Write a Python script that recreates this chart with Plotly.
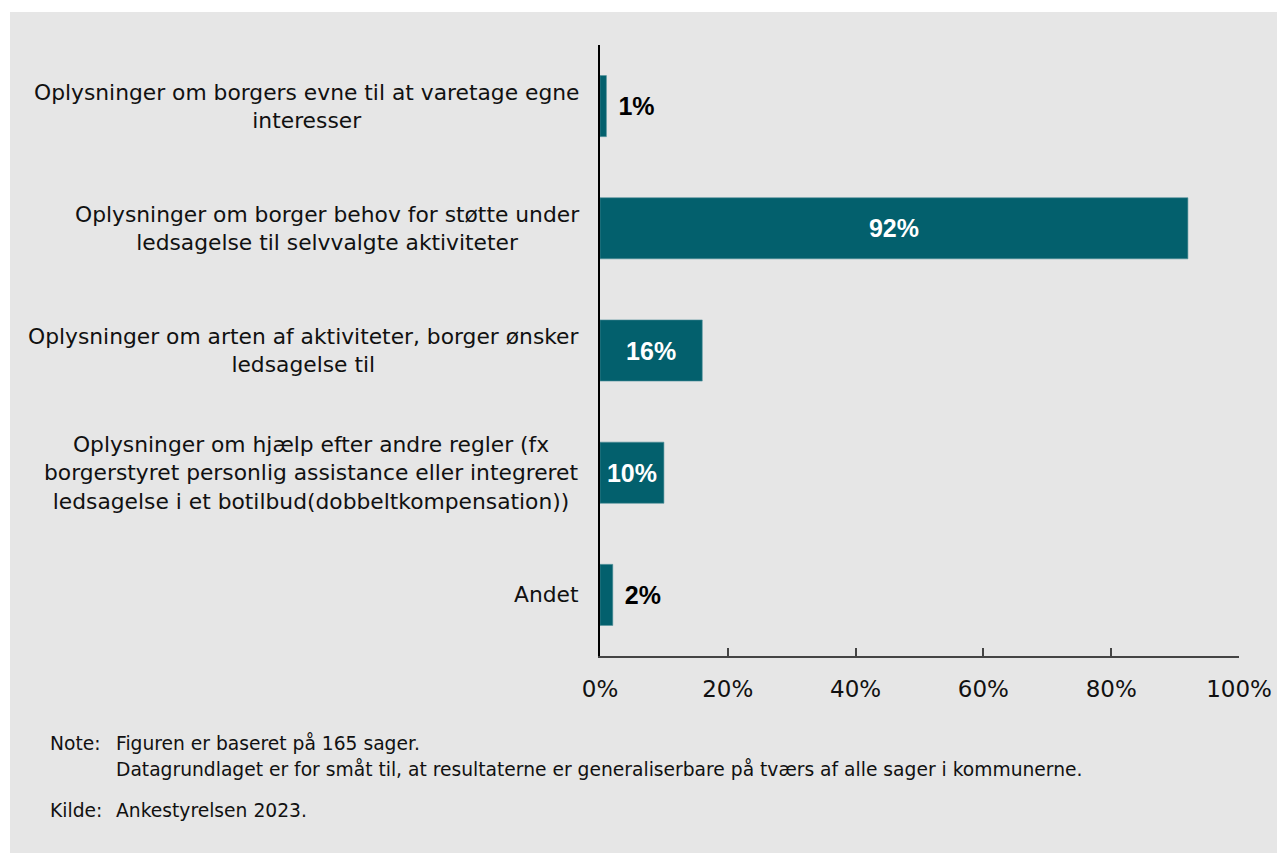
import plotly.graph_objects as go

categories = [
    "Oplysninger om borgers evne til at varetage egne<br>interesser",
    "Oplysninger om borger behov for støtte under<br>ledsagelse til selvvalgte aktiviteter",
    "Oplysninger om arten af aktiviteter, borger ønsker<br>ledsagelse til",
    "Oplysninger om hjælp efter andre regler (fx<br>borgerstyret personlig assistance eller integreret<br>ledsagelse i et botilbud(dobbeltkompensation))",
    "Andet",
]
values = [1, 92, 16, 10, 2]
value_labels = ["\u00a0\u200a1%", "92%", "16%", "10%", "\u00a0\u200a2%"]
label_positions = ["outside", "inside", "inside", "inside", "outside"]
x_ticks = [0, 20, 40, 60, 80, 100]
x_tick_labels = ["0%", "20%", "40%", "60%", "80%", "100%"]

note_lines = [
    ("Note:", "Figuren er baseret på 165 sager."),
    ("", "Datagrundlaget er for småt til, at resultaterne er generaliserbare på tværs af alle sager i kommunerne."),
    ("Kilde:", "Ankestyrelsen 2023."),
]

BG = "#e6e6e6"
BAR = "#03606d"

# page body has an 8px margin; work in screen pixels and convert
OFF = 8
W, H = 1285 - OFF, 853 - OFF
PL, PR, PT, PB = 600, 1239, 45, 656  # plot area in screen pixels
L, R, T, B = PL - OFF, W - (PR - OFF), PT - OFF, H - (PB - OFF)
pw, ph = W - L - R, H - T - B

def px_x(p):
    return (p - OFF - L) / pw

def px_y(p):
    return (H - B - (p - OFF)) / ph

fig = go.Figure()
fig.add_trace(go.Bar(
    y=categories,
    x=values,
    orientation="h",
    marker=dict(color=BAR, line=dict(color="#4f8e98", width=0.6)),
    text=value_labels,
    textposition=label_positions,
    insidetextanchor="middle",
    insidetextfont=dict(family="Liberation Sans", size=25, color="white", weight="bold"),
    outsidetextfont=dict(family="Liberation Sans", size=25, color="black", weight="bold"),
    textfont=dict(family="Liberation Sans", size=25, weight="bold"),
    constraintext="none",
    cliponaxis=False,
    hoverinfo="skip",
))

annotations = []
for c in categories:
    annotations.append(dict(
        x=0, xref="paper", y=c, yref="y",
        text=c, showarrow=False, xanchor="right", yanchor="middle",
        align="center", xshift=-19,
        font=dict(family="DejaVu Sans", size=21.8, color="#111111"),
    ))

note_y = [743, 769, 810]
for (lab, txt), yp in zip(note_lines, note_y):
    if lab:
        annotations.append(dict(
            x=px_x(48), xref="paper", y=px_y(yp), yref="paper",
            text=lab, showarrow=False, xanchor="left", yanchor="middle",
            font=dict(family="DejaVu Sans", size=18.7, color="#111111"),
        ))
    annotations.append(dict(
        x=px_x(114), xref="paper", y=px_y(yp), yref="paper",
        text=txt, showarrow=False, xanchor="left", yanchor="middle",
        font=dict(family="DejaVu Sans", size=18.7, color="#111111"),
    ))

shapes = [
    dict(type="rect", xref="paper", yref="paper", x0=px_x(0), x1=px_x(1300),
         y0=px_y(12), y1=px_y(0), fillcolor="white", line=dict(width=0), layer="below"),
    dict(type="rect", xref="paper", yref="paper", x0=px_x(0), x1=px_x(10),
         y0=px_y(860), y1=px_y(0), fillcolor="white", line=dict(width=0), layer="below"),
]

fig.update_layout(
    width=W, height=H,
    margin=dict(l=L, r=R, t=T, b=B),
    paper_bgcolor=BG, plot_bgcolor=BG,
    showlegend=False,
    bargap=0.5,
    annotations=annotations,
    shapes=shapes,
    xaxis=dict(
        range=[0, 100], tickvals=x_ticks, ticktext=x_tick_labels,
        showgrid=False, zeroline=False,
        showline=True, linecolor="#444444", linewidth=2,
        ticks="inside", ticklen=8, tickcolor="#444444", tickwidth=1.5,
        tickfont=dict(family="DejaVu Sans", size=23, color="#111111"),
        ticklabelstandoff=11,
    ),
    yaxis=dict(
        autorange="reversed", showticklabels=False, showgrid=False,
        zeroline=False, showline=True, linecolor="black", linewidth=2,
        ticks="",
    ),
)

fig.write_html("out.html")
